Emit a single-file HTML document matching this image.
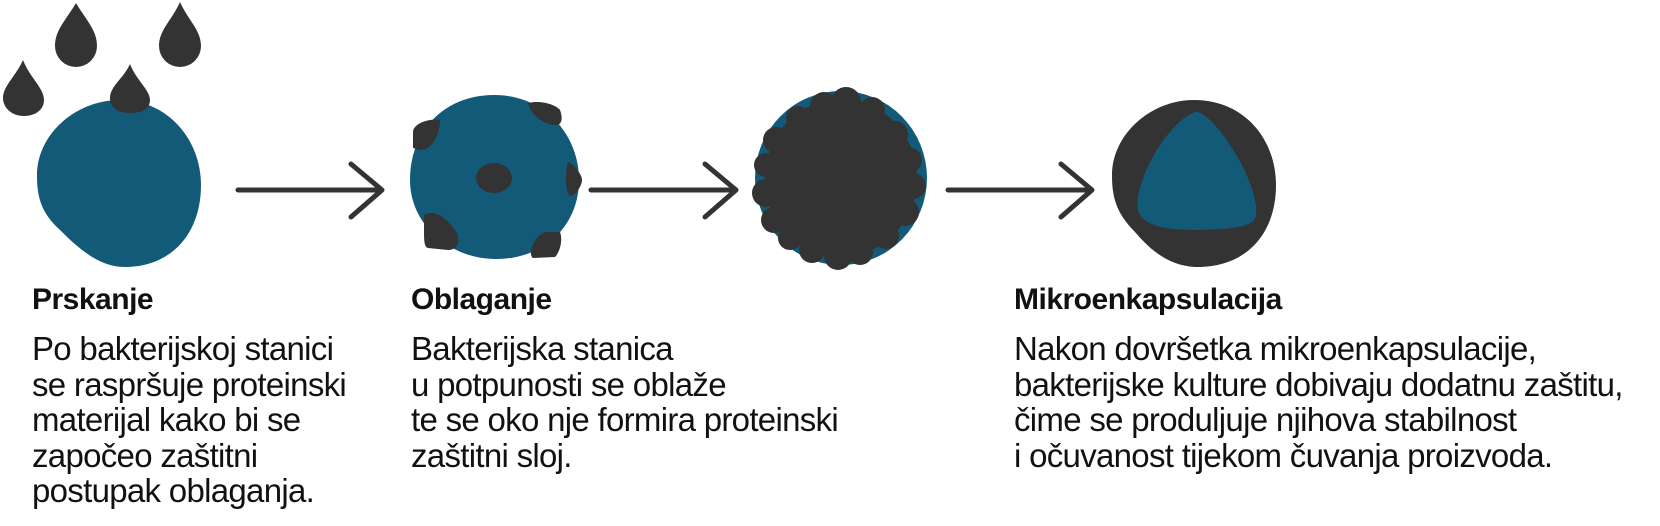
<!DOCTYPE html>
<html><head><meta charset="utf-8"><style>
html,body{margin:0;padding:0;background:#fff;}
body{width:1660px;height:526px;position:relative;overflow:hidden;font-family:"Liberation Sans",sans-serif;color:#111;}
svg{position:absolute;left:0;top:0;}
.t{position:absolute;font-size:30px;font-weight:bold;letter-spacing:-0.5px;}
.b{position:absolute;font-size:33px;line-height:35.5px;letter-spacing:-0.7px;white-space:nowrap;}
</style></head><body>
<svg width="1660" height="526" viewBox="0 0 1660 526">
<g fill="#125a77">
<path d="M120,100 C168,100 201,140 201,185 C201,235 170,267 125,267 C100,267 80,250 60,230 C40,212 37,195 37,175 C37,135 75,100 120,100Z"/>
<path d="M494,95 C545,95 579,135 579,180 C579,225 545,259 496,259 C450,259 410,225 410,180 C410,130 445,95 494,95Z"/>
<ellipse cx="841" cy="178" rx="86" ry="87"/>
</g>
<g fill="#333">
<path d="M76,3 C86,20 97,30 97,46 A21,21 0 0 1 55,46 C55,30 66,20 76,3Z"/>
<path d="M180,2 C188,20 201,30 201,46 A21,21 0 0 1 159,46 C159,30 172,20 180,2Z"/>
<path d="M23,60 C30,78 44,88 44,100 C44,110 35,116 24,116 C12,116 3,108 3,98 C3,86 16,76 23,60Z"/>
<path d="M130,64 C136,80 150,90 150,100 C150,110 140,113 130,113 C118,113 110,108 110,98 C110,86 124,78 130,64Z"/>
<ellipse cx="494" cy="178" rx="18" ry="15"/>
<path d="M440,120 C440,135 432,150 420,150 L413,148 L413,132 C413,124 428,118 440,120Z"/>
<path d="M528,103 C540,100 555,104 560,110 C563,118 562,125 556,125 C542,125 530,113 528,103Z"/>
<path d="M568,162 C575,165 582,175 582,180 C582,186 575,196 570,196 C565,193 565,170 568,162Z"/>
<path d="M424,215 C435,208 450,220 458,235 C460,245 455,250 448,250 L428,248 C424,247 424,240 424,230Z"/>
<path d="M560,232 C563,240 560,252 555,257 L533,258 C528,255 532,238 545,232Z"/>
<ellipse cx="841" cy="178" rx="76" ry="79"/>
<circle cx="824" cy="106" r="14"/><circle cx="846" cy="102" r="15"/><circle cx="872" cy="110" r="13"/>
<circle cx="895" cy="134" r="13"/><circle cx="910" cy="160" r="12"/><circle cx="913" cy="186" r="13"/>
<circle cx="905" cy="212" r="14"/><circle cx="886" cy="236" r="13"/><circle cx="860" cy="252" r="13"/>
<circle cx="838" cy="256" r="14"/><circle cx="812" cy="250" r="13"/><circle cx="790" cy="238" r="12"/>
<circle cx="774" cy="220" r="13"/><circle cx="766" cy="193" r="14"/><circle cx="766" cy="165" r="12"/>
<circle cx="776" cy="140" r="13"/><circle cx="798" cy="118" r="12"/>
<path d="M1194,100 C1245,100 1276,140 1276,185 C1276,235 1245,267 1198,267 C1170,267 1150,250 1135,232 C1115,212 1112,195 1112,175 C1112,135 1150,100 1194,100Z"/>
</g>
<path fill="#125a77" d="M1197,112 C1203,112 1218,126 1230,145 C1248,172 1258,200 1256,215 C1254,226 1240,229 1197,230 C1160,230 1142,224 1138,210 C1135,195 1145,168 1160,145 C1174,124 1190,112 1197,112Z"/>
<g stroke="#333" stroke-width="5" stroke-linecap="round" stroke-linejoin="round" fill="none">
<path d="M238,190 H382 M351,164 L382,190 L351,217"/>
<path d="M591,190 H736 M705,164 L736,190 L705,217"/>
<path d="M948,190 H1092 M1061,164 L1092,190 L1061,217"/>
</g>
</svg>
<div class="t" style="left:32px;top:283px;">Prskanje</div>
<div class="b" style="left:32px;top:331px;">Po bakterijskoj stanici<br>se raspršuje proteinski<br>materijal kako bi se<br>započeo zaštitni<br>postupak oblaganja.</div>
<div class="t" style="left:411px;top:283px;">Oblaganje</div>
<div class="b" style="left:411px;top:331px;">Bakterijska stanica<br>u potpunosti se oblaže<br>te se oko nje formira proteinski<br>zaštitni sloj.</div>
<div class="t" style="left:1014px;top:283px;">Mikroenkapsulacija</div>
<div class="b" style="left:1014px;top:331px;">Nakon dovršetka mikroenkapsulacije,<br>bakterijske kulture dobivaju dodatnu zaštitu,<br>čime se produljuje njihova stabilnost<br>i očuvanost tijekom čuvanja proizvoda.</div>
</body></html>
